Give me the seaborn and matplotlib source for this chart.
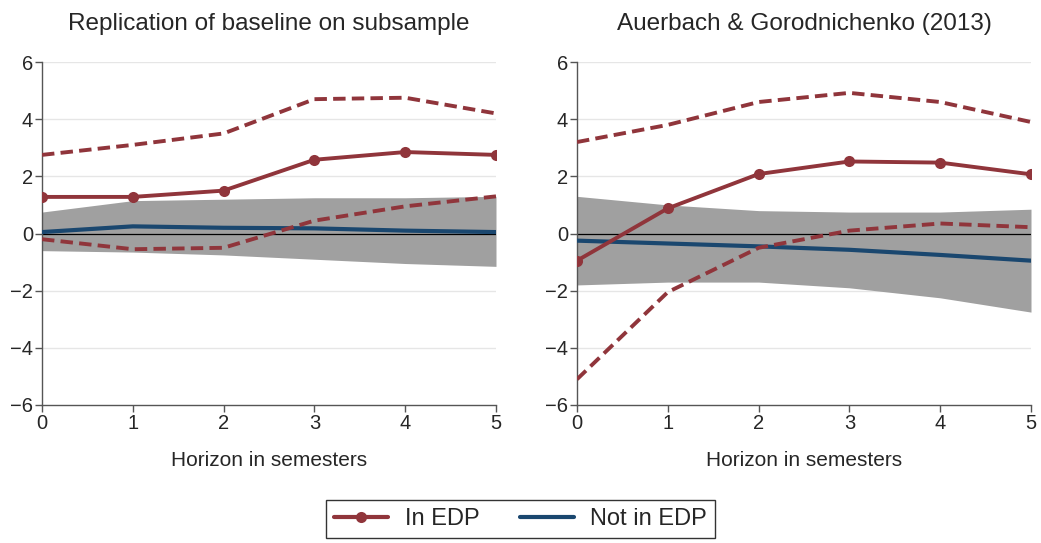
import numpy as np
import pandas as pd
import matplotlib
matplotlib.use("Agg")
import matplotlib.pyplot as plt
import seaborn as sns
from matplotlib.lines import Line2D

horizon = [0, 1, 2, 3, 4, 5]

# Left panel: Replication of baseline on subsample
l_edp = [1.28, 1.28, 1.50, 2.58, 2.85, 2.75]
l_edp_hi = [2.75, 3.10, 3.50, 4.70, 4.75, 4.20]
l_edp_lo = [-0.20, -0.55, -0.50, 0.45, 0.95, 1.30]
l_not = [0.05, 0.25, 0.20, 0.18, 0.10, 0.05]
l_not_hi = [0.75, 1.15, 1.20, 1.25, 1.25, 1.30]
l_not_lo = [-0.60, -0.65, -0.75, -0.90, -1.05, -1.15]

# Right panel: Auerbach & Gorodnichenko (2013)
r_edp = [-0.95, 0.88, 2.08, 2.52, 2.48, 2.07]
r_edp_hi = [3.20, 3.80, 4.60, 4.92, 4.60, 3.90]
r_edp_lo = [-5.10, -2.05, -0.50, 0.10, 0.35, 0.22]
r_not = [-0.25, -0.35, -0.45, -0.57, -0.75, -0.95]
r_not_hi = [1.30, 1.00, 0.80, 0.75, 0.75, 0.85]
r_not_lo = [-1.80, -1.70, -1.70, -1.90, -2.25, -2.75]

titles = ["Replication of baseline on subsample", "Auerbach & Gorodnichenko (2013)"]
xlabel = "Horizon in semesters"
legend_labels = ["In EDP", "Not in EDP"]

RED = "#90353B"
BLUE = "#1A476F"
GRAY = "#A0A0A0"

sns.set_style("white")
plt.rcParams['font.family'] = ['Liberation Sans', 'DejaVu Sans']

fig = plt.figure(figsize=(10.41, 5.43), dpi=100)
W, H = 1041, 543
axes = []
for x0, x1 in [(42, 496), (577, 1031)]:
    ax = fig.add_axes([x0 / W, 1 - 405 / H, (x1 - x0) / W, (405 - 62) / H])
    axes.append(ax)

panels = [
    (l_edp, l_edp_hi, l_edp_lo, l_not, l_not_hi, l_not_lo),
    (r_edp, r_edp_hi, r_edp_lo, r_not, r_not_hi, r_not_lo),
]

for ax, (edp, hi, lo, nt, nhi, nlo), title in zip(axes, panels, titles):
    df = pd.DataFrame({"h": horizon, "edp": edp, "hi": hi, "lo": lo, "nt": nt})
    ax.fill_between(horizon, nlo, nhi, color=GRAY, linewidth=0, zorder=1)
    for v in [-4, -2, 2, 4, 6]:
        ax.axhline(v, color="#E6E6E6", lw=1, zorder=0)
    ax.axhline(0, color="black", lw=0.9, zorder=2)
    sns.lineplot(data=df, x="h", y="nt", ax=ax, color=BLUE, lw=3, zorder=3)
    sns.lineplot(data=df, x="h", y="hi", ax=ax, color=RED, lw=2.8, zorder=4)
    sns.lineplot(data=df, x="h", y="lo", ax=ax, color=RED, lw=2.8, zorder=4)
    sns.lineplot(data=df, x="h", y="edp", ax=ax, color=RED, lw=2.8, zorder=5,
                 marker="o", markersize=8, markeredgewidth=0)
    for ln in ax.lines[-3:-1]:
        ln.set_linestyle((0, (3.2, 1.6)))
    ax.set_xlim(0, 5)
    ax.set_ylim(-6, 6)
    ax.set_xticks(horizon)
    ax.set_yticks([-6, -4, -2, 0, 2, 4, 6])
    ax.set_yticklabels(["\u22126", "\u22124", "\u22122", "0", "2", "4", "6"])
    ax.tick_params(axis="both", labelsize=14.5, length=5, width=1, color="#555555",
                   direction="out", pad=1.5)
    ax.tick_params(axis="both", bottom=True, left=True)
    ax.set_ylabel("")
    ax.set_xlabel(xlabel, fontsize=15, labelpad=13)
    ax.set_title(title, fontsize=17.5, pad=23)
    for s in ["top", "right"]:
        ax.spines[s].set_visible(False)
    for s in ["left", "bottom"]:
        ax.spines[s].set_color("#555555")
        ax.spines[s].set_linewidth(1)

handles = [
    Line2D([0], [0], color=RED, lw=3, marker="o", markersize=8, markeredgewidth=0),
    Line2D([0], [0], color=BLUE, lw=3),
]
leg = fig.legend(handles, legend_labels, loc="lower center", bbox_to_anchor=(0.5, -0.012),
                 ncol=2, fontsize=17, frameon=True, fancybox=False, handlelength=2.3,
                 handletextpad=0.7, columnspacing=1.7, borderpad=0.33)
leg.get_frame().set_edgecolor("black")
leg.get_frame().set_linewidth(1)

fig.savefig("out.png", dpi=100, facecolor="white")
